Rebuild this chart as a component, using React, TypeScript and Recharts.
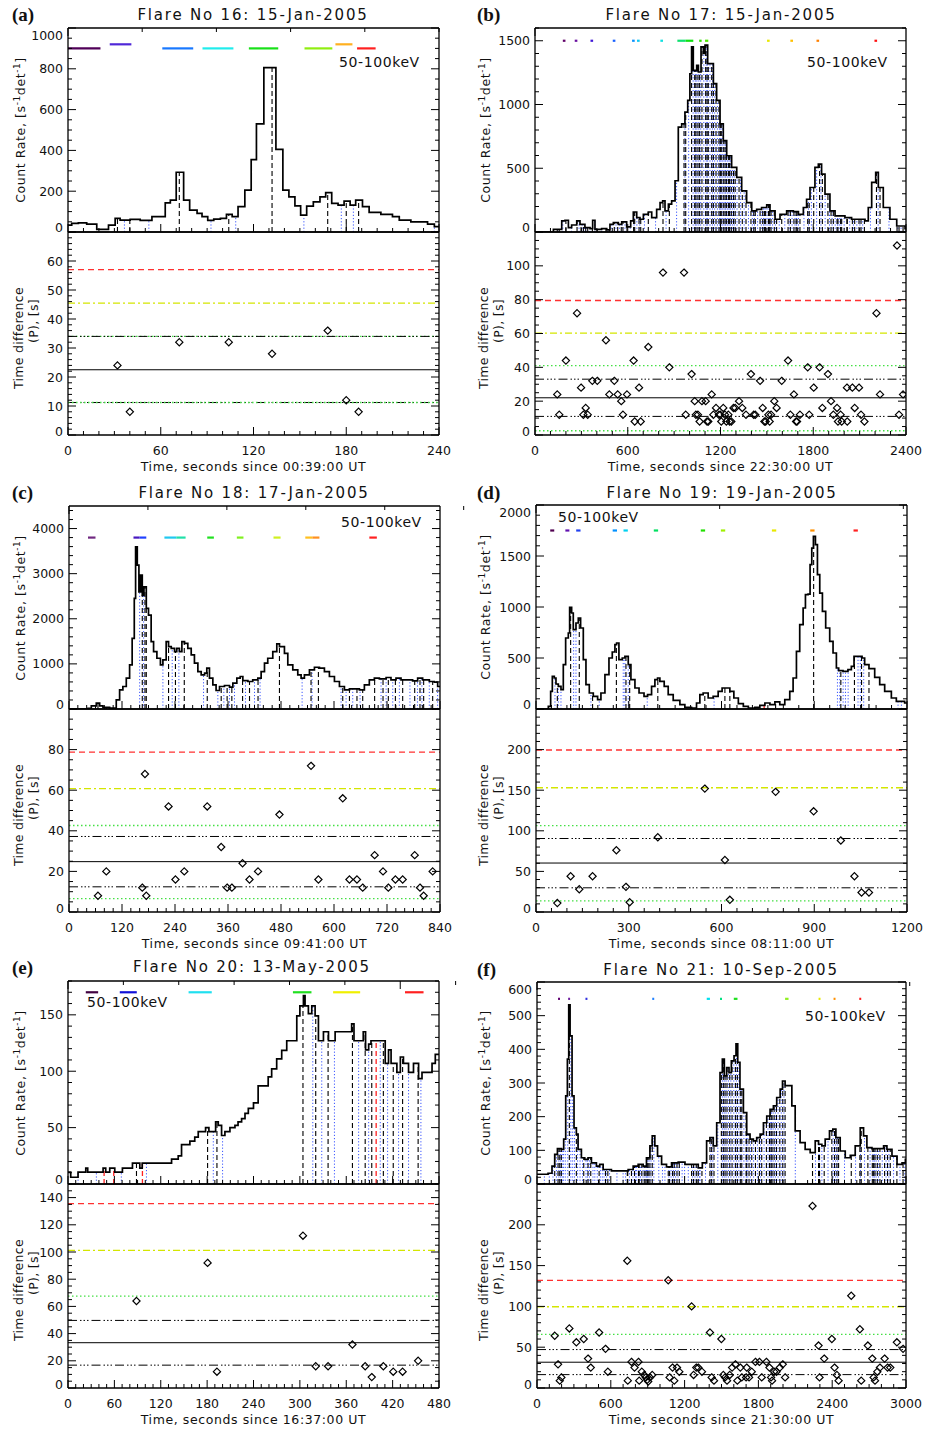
import React from 'react';
import { LineChart, Line, ScatterChart, Scatter, XAxis, YAxis, ReferenceLine } from 'recharts';

type Pair = [number, number];
type Mark = [number, number, number];

const FONT = '"DejaVu Sans", sans-serif';

// ---------- (a) Flare 16 ----------
const rateA: Pair[] = [[0,34],[2.4,42],[6.7,45],[12.1,39],[18.6,13],[26.2,34],[30.5,67],[33.7,58],[40.2,62],[46.7,57],[54.3,75],[62.9,143],[66.2,156],[70,293],[74.8,156],[78.7,107],[83.5,91],[86.7,75],[90.4,57],[94.3,63],[98.6,67],[102.5,86],[106.2,75],[110,124],[114.4,205],[118.5,355],[121.9,530],[126.7,806],[134.5,405],[139,205],[142.9,172],[146.8,128],[150.5,83],[154.4,127],[158.7,148],[163,172],[166.7,193],[170.6,140],[174.7,132],[178.6,151],[182.5,132],[186.1,156],[190.5,124],[194.8,96],[202.4,86],[209.9,75],[214.3,58],[221.8,50],[232.6,39],[237,26],[240,26]];
const peaksA: Pair[] = [[32,24],[40,8],[72,32],[104,32],[132,28],[168,36],[180,12],[188,8]];
const valleysA = [36.5, 52.3, 92.5, 108.5, 152.6, 176.8, 184.6, 237];
const marksA: Mark[] = [[0,21,900],[27,41,920],[61,81,900],[87,107,900],[117,136,900],[153,171,900],[173,184,920],[187,199,900]];
const markColorsA = ['#500058','#5028d8','#1878ff','#20ecec','#18e018','#90ee10','#ffb020','#ff2020'];
const levelsA = [57, 45.5, 34, 34, 22.5, 11.2, 11.2];

// ---------- (b) Flare 17 ----------
const rateB: Pair[] = [[0,0],[119,20],[173,87],[194,92],[216,34],[237,55],[270,87],[291,60],[323,34],[356,26],[373,92],[388,21],[431,26],[464,16],[485,60],[507,73],[539,60],[561,80],[593,40],[619,87],[636,157],[658,113],[679,100],[701,139],[733,157],[755,113],[787,178],[809,231],[826,244],[841,165],[863,218],[884,244],[906,402],[927,822],[949,848],[970,940],[988,1032],[1002,1241],[1013,1452],[1024,1268],[1046,1307],[1057,1255],[1074,1452],[1089,1400],[1100,1465],[1117,1320],[1132,1320],[1154,1163],[1175,1032],[1197,848],[1218,717],[1240,598],[1272,507],[1305,428],[1337,323],[1369,231],[1402,165],[1434,178],[1466,192],[1499,213],[1520,165],[1553,100],[1585,139],[1628,165],[1671,160],[1704,139],[1736,192],[1757,257],[1779,349],[1811,507],[1833,533],[1854,454],[1876,297],[1908,165],[1941,126],[2005,113],[2048,100],[2092,100],[2135,87],[2156,192],[2178,389],[2204,467],[2221,349],[2253,192],[2296,100],[2340,47],[2394,26],[2400,26]];
const peaksB: Pair[] = [[144,24],[157,12],[200,44],[272,72],[298,28],[313,12],[328,16],[341,12],[371,32],[403,32],[459,56],[481,24],[513,32],[535,24],[558,20],[569,12],[595,24],[638,44],[645,8],[673,28],[684,8],[733,52],[828,96],[869,40],[964,96],[975,12],[1013,36],[1033,20],[1041,12],[1054,12],[1065,8],[1080,20],[1104,20],[1113,8],[1121,8],[1143,24],[1154,12],[1171,16],[1190,12],[1199,12],[1205,8],[1218,16],[1229,12],[1238,8],[1251,12],[1259,8],[1270,8],[1284,16],[1295,16],[1320,20],[1341,16],[1365,12],[1397,36],[1415,12],[1425,12],[1456,32],[1473,16],[1484,8],[1492,8],[1510,12],[1518,8],[1527,12],[1548,20],[1563,16],[1596,32],[1637,44],[1652,12],[1675,24],[1689,8],[1695,8],[1714,12],[1764,40],[1774,12],[1803,28],[1841,40],[1859,16],[1895,36],[1915,20],[1930,12],[1954,16],[1960,8],[1977,12],[1984,8],[2018,28],[2020,8],[2053,28],[2068,16],[2096,28],[2109,12],[2131,8],[2209,72],[2232,24],[2342,112],[2355,12],[2381,24]];
const valleysB = [150,180,236,285,305,320,335,356,387,430,470,497,524,546,563,582,616,641,659,678,708,780,848,916,970,994,1023,1037,1047,1060,1072,1092,1108,1117,1132,1148,1162,1180,1194,1202,1211,1223,1233,1244,1255,1264,1277,1289,1307,1330,1353,1381,1406,1420,1440,1464,1478,1488,1501,1514,1522,1537,1555,1580,1616,1644,1663,1682,1692,1704,1740,1769,1788,1822,1850,1877,1905,1922,1942,1957,1968,1980,2000,2036,2060,2082,2102,2120,2170,2220,2290,2348,2368,2394];
const marksB: Mark[] = [[180,197,1500],[257,274,1500],[359,376,1500],[503,520,1500],[628,645,1500],[660,677,1500],[811,828,1500],[921,975,1500],[975,1024,1500],[1062,1078,1500],[1100,1121,1500],[1501,1518,1500],[1652,1669,1500],[1821,1838,1500],[2196,2213,1500]];
const markColorsB = ['#600068','#6a10a0','#4018d8','#1860ff','#0890ff','#10c8f0','#10e0e0','#10e070','#10e010','#30e000','#50e800','#e8e800','#ffc000','#ff8000','#ff1010'];
const levelsB = [79.5, 60.2, 41, 33, 22, 11, 2.5];

// ---------- (c) Flare 18 ----------
const rateC: Pair[] = [[0,0],[43,15],[50.5,71],[61.8,130],[69.4,71],[76.9,35],[92,20],[103.3,20],[107,204],[114.6,425],[122,499],[129.7,683],[137.2,978],[143,1567],[147.8,2451],[150.8,3593],[154.6,3188],[158.3,2598],[162,2967],[165.9,2524],[169.7,2709],[175,2230],[180,2083],[186,1493],[191.5,1272],[199,1125],[207,978],[212.6,1088],[220,1493],[225.4,1383],[231.5,1346],[239,1272],[244,1346],[250,1272],[255.6,1493],[261.6,1456],[269,1346],[276.7,1199],[284,1015],[291.8,830],[299.3,757],[307,794],[312,904],[318,683],[325.7,536],[333,410],[340.8,499],[352,521],[363.4,484],[371,573],[380,683],[387.6,720],[393.6,631],[405,610],[416,646],[427.5,683],[435,830],[442.6,1015],[450,1125],[461.4,1272],[470.5,1442],[476.5,1383],[487.8,1235],[495.4,978],[506.7,867],[518,757],[525.5,683],[533,757],[544.4,867],[555.7,926],[567,904],[578.3,830],[589.6,720],[601,610],[612.3,499],[623.6,425],[635,447],[646.2,447],[657.5,425],[668.8,536],[680,646],[691.4,683],[702.7,668],[718,698],[729,646],[740.4,683],[751.7,646],[763,646],[778,624],[789.4,683],[800.7,646],[815.8,610],[827,595],[834.7,499],[840,499]];
const peaksC: Pair[] = [[65.6,8],[84.5,20],[165.9,12],[172,68],[175,8],[225.4,52],[241,16],[261,20],[313,52],[344.6,32],[358,12],[368.7,12],[393,24],[408.7,16],[428,20],[476.5,48],[548,72],[564.7,16],[619.8,56],[635,16],[652,16],[665,12],[692,28],[711,20],[723,12],[739,16],[755.5,16],[782.7,28],[794.7,12],[803,8],[823.4,20]];
const valleysC = [160,169,212.6,233.7,248.8,304.6,337,350.6,363.4,374.7,399.6,420,432.6,527.8,550.4,616,627.4,642.4,659,706.5,718,733,748,772,789,799,815.8,834.6];
const marksC: Mark[] = [[43,60,3800],[146,160,3800],[160,175,3800],[216,243,3800],[243,264,3800],[313,328,3800],[380,395,3800],[463,479,3800],[535,551,3800],[551,567,3800],[680,697,3800]];
const markColorsC = ['#702880','#4818c0','#2040ff','#20c8f0','#20e0a8','#20e020','#80f020','#d0f020','#ffc020','#ff9020','#ff2020'];
const levelsC = [78.8, 60.8, 42.6, 37.2, 24.8, 12.4, 6.6];

// ---------- (d) Flare 19 ----------
const rateD: Pair[] = [[0,0],[34.5,0],[39.9,26],[47.4,173],[52.8,320],[59.2,304],[64.6,245],[72.2,222],[80.8,190],[88.3,435],[95.9,696],[104.5,745],[108.8,997],[115.3,941],[120.6,778],[129.3,843],[136.8,892],[144.3,794],[153,484],[161.6,239],[172.4,157],[185.3,124],[199.3,92],[210,157],[223,337],[236,500],[246.7,559],[255.3,631],[260.7,647],[268.2,484],[279,500],[287.6,516],[298.4,435],[307,288],[320,206],[333.3,157],[349.4,124],[360.9,141],[373.8,222],[384.6,288],[393.2,304],[400.7,271],[414.7,222],[427.6,141],[443.8,85],[465.4,42],[481.5,16],[503,10],[519.2,59],[530,141],[540.7,157],[556.9,108],[573,124],[589.2,173],[602,206],[616.2,206],[627,173],[640,108],[654.5,52],[670.6,26],[686.8,10],[708,16],[724,36],[740.4,59],[756.6,42],[772.7,69],[788.5,42],[804.7,92],[820.8,173],[831.6,304],[842.4,565],[853,827],[864,990],[871.5,1121],[880,1127],[886.5,1415],[892,1578],[897.3,1693],[903.8,1611],[910.3,1317],[917.8,1137],[926.4,958],[937,794],[950,663],[960.8,549],[971.6,402],[979,376],[993,369],[1009,386],[1020,418],[1028.7,516],[1041.6,516],[1054.6,500],[1063,435],[1077,395],[1095.5,310],[1111.7,239],[1127.8,173],[1149.4,108],[1165.5,75],[1192.5,59],[1200,59]];
const peaksD: Pair[] = [[69,11],[112,44],[140,28],[183,44],[260,76],[291,31],[303,12],[394,92],[546,152],[611,64],[627,15],[775,148],[898,124],[986,88],[1030,44],[1053,24],[1077,24]];
const valleysD = [61.4,72.2,80.8,121.7,129.3,177.7,204.6,282.2,287.6,298.4,359.8,576,975,982.6,993.4,1001,1009.6,1041.6,1049,1060,1171,1182];
const redsD = [738];
const marksD: Mark[] = [[46,59,1750],[95,108,1750],[130,144,1750],[248,262,1750],[283,297,1750],[381,395,1750],[533,547,1750],[598,612,1750],[763,777,1750],[887,901,1750],[1027,1041,1750]];
const markColorsD = ['#500050','#6010b0','#2040f0','#0090ff','#00d0f0','#00e060','#20e000','#a0f000','#e8e800','#ff9000','#ff2020'];
const levelsD = [199.5, 153, 106.4, 90.5, 60.3, 29.8, 13.7];

// ---------- (e) Flare 20 ----------
const rateE: Pair[] = [[0,10.6],[3.5,6],[13,10.6],[23,14],[25.5,10.6],[45.4,14],[48.8,10.6],[54,14],[60.5,10.6],[70.4,14],[83.4,18.5],[92.9,14],[96,18.5],[134,22],[142.6,25],[146.9,35],[157.7,38],[164,41.5],[168.5,46.5],[178,50],[182.3,46.5],[191,55],[194.4,52],[198.7,43],[203,46.5],[209.5,50],[216,52],[220,55],[224.6,58],[229,62.6],[233.3,67],[240,72],[246,87],[259,95],[263.5,102],[270,111],[276.5,118.5],[283,127],[296,149],[300,158],[304.6,167],[306.7,158],[311,151],[315.4,158],[319.7,149],[324,127],[330.5,135],[337,127],[345.6,135],[367,142],[370,127],[382,135],[385,119],[389,124],[392,127],[410.4,107],[414.7,119],[418,107],[425.5,99],[430,112.6],[434,107],[440.6,99],[447,107],[453.6,93.5],[458,99],[471,107],[475.2,115],[480,115]];
const peaksE: Pair[] = [[88.6,64],[180.6,92],[192.7,12],[304,112],[320.5,16],[336.5,16],[368,32],[384.5,16],[393,8],[408,16],[420.8,12],[432.9,12],[453,20]];
const valleysE = [13,36.7,69,101.5,188,200,316.7,328.3,344.7,376,389,404,413.5,427.7,440.6,456.6];
const redsE = [46.7, 59.2, 96.3, 398.7];
const marksE: Mark[] = [[23,39,170],[67,89,170],[156,186,170],[291,315,170],[343,378,170],[436,460,170]];
const markColorsE = ['#400040','#1010d8','#20e0f0','#20e020','#f0f000','#ff2020'];
const levelsE = [135.5, 101.2, 67.6, 49.7, 33.3, 16.8, null];

// ---------- (f) Flare 21 ----------
const rateF: Pair[] = [[0,29],[35,29],[90,32],[122,53],[144,88],[166,105],[198,103],[217,133],[233.5,262],[247,371],[258,532],[269,440],[285,262],[301,167],[320,148],[334,103],[361,78],[388,73],[415,78],[442.5,63],[483,53],[510,58],[537.6,43],[578,43],[605,39],[687,39],[741,43],[782,53],[822.6,58],[863,53],[890,78],[918,113],[937,143],[958,113],[980,83],[1013,58],[1053,51],[1094,63],[1148,65],[1203,58],[1257,58],[1311,48],[1344,63],[1379,128],[1406,138],[1433,113],[1461,182],[1488,331],[1507,371],[1523,321],[1542,346],[1561,331],[1580,366],[1602,381],[1618,416],[1632,361],[1650,282],[1678,212],[1705,148],[1732,133],[1759,128],[1786,138],[1814,148],[1841,182],[1868,202],[1895,222],[1922,232],[1949,257],[1977,282],[1996,306],[2017,292],[2044,292],[2072,232],[2099,158],[2139,123],[2180,103],[2221,93],[2262,128],[2289,118],[2316,113],[2343,133],[2378,158],[2405,163],[2430,138],[2465,98],[2506,78],[2547,85],[2587,113],[2628,167],[2655,143],[2682,108],[2723,105],[2777,105],[2818,113],[2845,103],[2886,83],[2927,58],[2968,63],[2995,73],[3000,73]];
const peaksF: Pair[] = [[144,64],[171,29],[185,9],[198,13],[263,73],[320,56],[380,60],[415,36],[437,25],[505,68],[557,48],[576,20],[734,156],[738,9],[768,32],[793,25],[825,32],[831,9],[852,20],[872,16],[885,13],[896,10],[904,8],[918,13],[937,16],[1067,132],[1078,13],[1102,25],[1116,9],[1138,25],[1157,20],[1257,100],[1273,16],[1295,25],[1311,25],[1341,20],[1406,68],[1420,13],[1439,9],[1499,60],[1515,16],[1529,13],[1545,9],[1567,16],[1586,25],[1613,29],[1629,9],[1653,25],[1665,13],[1700,13],[1705,25],[1724,13],[1746,20],[1776,32],[1808,32],[1827,13],[1865,32],[1890,25],[1903,13],[1911,9],[1928,20],[1947,20],[1974,25],[1998,29],[2017,13],[2240,223],[2289,52],[2297,13],[2335,36],[2397,60],[2419,25],[2438,16],[2452,9],[2555,113],[2625,72],[2636,9],[2690,52],[2726,36],[2737,13],[2748,9],[2767,20],[2788,25],[2826,36],[2850,25],[2872,25],[2926,56],[2976,48]];
const valleysF = [60,100,130,158,178,192,205,215,230,250,275,290,305,330,350,370,398,410,426,455,470,490,515,531,545,566,590,650,700,720,752,780,800,810,828,841,862,878,890,900,911,927,950,990,1020,1040,1072,1090,1109,1127,1147,1180,1200,1230,1265,1284,1303,1320,1326,1370,1413,1430,1470,1507,1522,1537,1556,1576,1600,1621,1641,1659,1682,1702,1714,1735,1761,1792,1818,1846,1878,1896,1907,1920,1938,1960,1986,2008,2100,2264,2293,2316,2366,2408,2428,2445,2500,2590,2630,2663,2708,2731,2742,2757,2777,2807,2838,2861,2899,2951,2990];
const marksF: Mark[] = [[171,187,550],[253,269,550],[394,410,550],[937,953,550],[1380,1406,550],[1488,1504,550],[1600,1630,550],[2017,2045,550],[2289,2305,550],[2411,2427,550],[2620,2636,550]];
const markColorsF = ['#600070','#7020a0','#3030e0','#2080ff','#00e0f0','#00e080','#20e020','#90f020','#e8e800','#ff9000','#ff2020'];
const levelsF = [132, 99.6, 65.6, 47.1, 31.6, 16.4, null];

// red, yellow, green hi, sigma hi, mean, sigma lo, green lo
const LEVEL_STYLES = [
  { stroke: '#ff3030', dash: '6 4', w: 1.3 },
  { stroke: '#d4e600', dash: '7 3 2 3', w: 1.3 },
  { stroke: '#44e044', dash: '1.5 2.5', w: 1.3 },
  { stroke: '#000', dash: '9 3 1.5 2 1.5 2 1.5 3', w: 1 },
  { stroke: '#000', dash: undefined, w: 1 },
  { stroke: '#000', dash: '9 3 1.5 2 1.5 2 1.5 3', w: 1 },
  { stroke: '#44e044', dash: '1.5 2.5', w: 1.3 },
];

interface PanelSpec {
  letter: string; title: string; since: string;
  colLeft: number; plotLeft: number; plotRight: number;
  top: number; mid: number; bottom: number;
  titleX: number; titleY: number; letterY: number;
  keVX: number; keVY: number;
  xMax: number; xMajor: number[]; xMinor: number;
  rMax: number; rMajor: number[]; rMinor: number;
  dMax: number; dMajor: number[]; dMinor: number;
  rate: Pair[]; peaks: Pair[]; valleys: number[]; reds: number[];
  marks: Mark[]; markColors: string[]; levels: (number | null)[];
}

const PANELS: PanelSpec[] = [
  { letter: '(a)', title: 'Flare No 16: 15-Jan-2005', since: '00:39:00', colLeft: 0, plotLeft: 68, plotRight: 439, top: 28, mid: 232, bottom: 435, titleX: 253, titleY: 15, letterY: 15, keVX: 339, keVY: 62,
    xMax: 240, xMajor: [0, 60, 120, 180, 240], xMinor: 10, rMax: 1000, rMajor: [0, 200, 400, 600, 800, 1000], rMinor: 50, dMax: 70, dMajor: [0, 10, 20, 30, 40, 50, 60, 70], dMinor: 2,
    rate: rateA, peaks: peaksA, valleys: valleysA, reds: [], marks: marksA, markColors: markColorsA, levels: levelsA },
  { letter: '(b)', title: 'Flare No 17: 15-Jan-2005', since: '22:30:00', colLeft: 465, plotLeft: 535, plotRight: 906, top: 28, mid: 232, bottom: 435, titleX: 721, titleY: 15, letterY: 15, keVX: 807, keVY: 62,
    xMax: 2400, xMajor: [0, 600, 1200, 1800, 2400], xMinor: 100, rMax: 1600, rMajor: [0, 500, 1000, 1500], rMinor: 100, dMax: 120, dMajor: [0, 20, 40, 60, 80, 100, 120], dMinor: 5,
    rate: rateB, peaks: peaksB, valleys: valleysB, reds: [], marks: marksB, markColors: markColorsB, levels: levelsB },
  { letter: '(c)', title: 'Flare No 18: 17-Jan-2005', since: '09:41:00', colLeft: 0, plotLeft: 69, plotRight: 440, top: 506, mid: 709, bottom: 912, titleX: 254, titleY: 493, letterY: 493, keVX: 341, keVY: 522,
    xMax: 840, xMajor: [0, 120, 240, 360, 480, 600, 720, 840], xMinor: 20, rMax: 4500, rMajor: [0, 1000, 2000, 3000, 4000], rMinor: 200, dMax: 100, dMajor: [0, 20, 40, 60, 80, 100], dMinor: 5,
    rate: rateC, peaks: peaksC, valleys: valleysC, reds: [], marks: marksC, markColors: markColorsC, levels: levelsC },
  { letter: '(d)', title: 'Flare No 19: 19-Jan-2005', since: '08:11:00', colLeft: 465, plotLeft: 536, plotRight: 907, top: 505, mid: 709, bottom: 912, titleX: 722, titleY: 493, letterY: 493, keVX: 558, keVY: 517,
    xMax: 1200, xMajor: [0, 300, 600, 900, 1200], xMinor: 50, rMax: 2000, rMajor: [0, 500, 1000, 1500, 2000], rMinor: 100, dMax: 250, dMajor: [0, 50, 100, 150, 200, 250], dMinor: 10,
    rate: rateD, peaks: peaksD, valleys: valleysD, reds: redsD, marks: marksD, markColors: markColorsD, levels: levelsD },
  { letter: '(e)', title: 'Flare No 20: 13-May-2005', since: '16:37:00', colLeft: 0, plotLeft: 68, plotRight: 439, top: 981, mid: 1184, bottom: 1388, titleX: 252, titleY: 967, letterY: 968, keVX: 87, keVY: 1002,
    xMax: 480, xMajor: [0, 60, 120, 180, 240, 300, 360, 420, 480], xMinor: 10, rMax: 180, rMajor: [0, 50, 100, 150], rMinor: 10, dMax: 150, dMajor: [0, 20, 40, 60, 80, 100, 120, 140], dMinor: 5,
    rate: rateE, peaks: peaksE, valleys: valleysE, reds: redsE, marks: marksE, markColors: markColorsE, levels: levelsE },
  { letter: '(f)', title: 'Flare No 21: 10-Sep-2005', since: '21:30:00', colLeft: 465, plotLeft: 537, plotRight: 906, top: 982, mid: 1184, bottom: 1388, titleX: 721, titleY: 970, letterY: 970, keVX: 805, keVY: 1016,
    xMax: 3000, xMajor: [0, 600, 1200, 1800, 2400, 3000], xMinor: 100, rMax: 600, rMajor: [0, 100, 200, 300, 400, 500, 600], rMinor: 20, dMax: 250, dMajor: [0, 50, 100, 150, 200, 250], dMinor: 10,
    rate: rateF, peaks: peaksF, valleys: valleysF, reds: [], marks: marksF, markColors: markColorsF, levels: levelsF },
];

function tickList(max: number, step: number) {
  const out: number[] = [];
  for (let v = 0; v <= max + 1e-9; v += step) out.push(Math.round(v * 1000) / 1000);
  return out;
}

const isMajor = (v: number, majors: number[]) => majors.some(m => Math.abs(m - v) < 1e-6);

// value of the step curve at time t
function rateAt(rate: Pair[], t: number) {
  let v = rate[0][1];
  for (const [ti, ri] of rate) {
    if (ti <= t) v = ri;
    else break;
  }
  return v;
}

function xTick(majors: number[], dir: 'up' | 'down', labels: boolean) {
  return (p: any) => {
    const v = p.payload.value;
    const major = isMajor(v, majors);
    const len = major ? 8 : 4;
    const y2 = dir === 'up' ? p.y - len : p.y + len;
    return (
      <g>
        <line x1={p.x} y1={p.y} x2={p.x} y2={y2} stroke="#000" strokeWidth={1} />
        {labels && major && (
          <text x={p.x} y={p.y + 20} textAnchor="middle" fontSize={12.5} fontFamily={FONT} fill="#111">{v}</text>
        )}
      </g>
    );
  };
}

function yTick(majors: number[], side: 'left' | 'right', minY: number, maxY: number, labels: boolean, skip?: number) {
  return (p: any) => {
    const v = p.payload.value;
    const major = isMajor(v, majors);
    const len = major ? 8 : 4;
    const dir = side === 'left' ? 1 : -1;
    const ly = Math.min(Math.max(p.y, minY), maxY);
    return (
      <g>
        <line x1={p.x} y1={p.y} x2={p.x + dir * len} y2={p.y} stroke="#000" strokeWidth={1} />
        {labels && major && v !== skip && (
          <text x={p.x - 5} y={ly + 4.5} textAnchor="end" fontSize={12.5} fontFamily={FONT} fill="#111">{v}</text>
        )}
      </g>
    );
  };
}

const renderDiamond = (p: any) => (
  <polygon
    points={`${p.cx},${p.cy - 3.6} ${p.cx + 3.6},${p.cy} ${p.cx},${p.cy + 3.6} ${p.cx - 3.6},${p.cy}`}
    fill="none" stroke="#000" strokeWidth={1.2}
  />
);

const axisLine = { stroke: '#000', strokeWidth: 1.3 };

function Panel({ s }: { s: PanelSpec }) {
  // the frame axes are 1px thick; margins are reduced by that amount
  const W = 465, YW = 40, PT = 14, PB = 6, BT = 4, BB = 44, AX = 1;
  const topH = s.mid - s.top;
  const botH = s.bottom - s.mid;
  const ml = s.plotLeft - s.colLeft - YW;
  const mr = s.colLeft + W - s.plotRight - AX;
  const xTicks = tickList(s.xMax, s.xMinor);
  const rTicks = tickList(s.rMax, s.rMinor);
  const dTicks = tickList(s.dMax, s.dMinor);
  const rateData = s.rate.map(([t, r]) => ({ t, r }));
  const peakData = s.peaks.map(([t, v]) => ({ t, v }));
  const xDom: [number, number] = [0, s.xMax];
  const text = { position: 'absolute' as const, fontFamily: FONT, color: '#111', whiteSpace: 'nowrap' as const };
  const midTop = (s.top + s.mid) / 2;
  const midBot = (s.mid + s.bottom) / 2;
  const common = { type: 'number' as const, interval: 0, tickSize: 0, tickMargin: 0, allowDataOverflow: true, axisLine };

  return (
    <>
      <div style={{ ...text, left: s.colLeft + 12, top: s.letterY, transform: 'translateY(-50%)', fontFamily: '"Liberation Serif", serif', fontWeight: 'bold', fontSize: 19 }}>{s.letter}</div>
      <div style={{ ...text, left: s.titleX, top: s.titleY, transform: 'translate(-50%,-50%)', fontSize: 15, letterSpacing: 1.8 }}>{s.title}</div>
      <div style={{ ...text, left: s.keVX, top: s.keVY, transform: 'translateY(-50%)', fontSize: 14, letterSpacing: 0.6, zIndex: 2 }}>50-100keV</div>
      <div style={{ ...text, left: s.colLeft + 20, top: midTop, transform: 'translate(-50%,-50%) rotate(-90deg)', fontSize: 12.5, letterSpacing: 0.6 }}>
        Count Rate, [s<span style={{ fontSize: 9, position: 'relative', top: -5 }}>-1</span>det<span style={{ fontSize: 9, position: 'relative', top: -5 }}>-1</span>]
      </div>
      <div style={{ ...text, left: s.colLeft + 18, top: midBot + 4, transform: 'translate(-50%,-50%) rotate(-90deg)', fontSize: 12.5, letterSpacing: 0.3 }}>Time difference</div>
      <div style={{ ...text, left: s.colLeft + 33, top: midBot - 13, transform: 'translate(-50%,-50%) rotate(-90deg)', fontSize: 12.5, letterSpacing: 0.3 }}>(P), [s]</div>
      <div style={{ ...text, left: (s.plotLeft + s.plotRight) / 2, top: s.bottom + 31, transform: 'translate(-50%,-50%)', fontSize: 12.5, letterSpacing: 0.6 }}>
        Time, seconds since {s.since} UT
      </div>

      <div style={{ position: 'absolute', left: s.colLeft, top: s.top - PT }}>
        <LineChart width={W} height={topH + PT + PB} data={rateData} margin={{ top: PT - AX, bottom: PB - AX, left: ml, right: mr }}>
          <XAxis dataKey="t" {...common} domain={xDom} ticks={xTicks} height={AX} tick={xTick(s.xMajor, 'up', false)} />
          <XAxis xAxisId="top" orientation="top" {...common} domain={xDom} ticks={xTicks} height={AX} tick={xTick(s.xMajor, 'down', false)} />
          <YAxis {...common} domain={[0, s.rMax]} ticks={rTicks} width={YW} tick={yTick(s.rMajor, 'left', PT + 7, PT + topH - 5, true)} />
          <YAxis yAxisId="right" orientation="right" {...common} domain={[0, s.rMax]} ticks={rTicks} width={AX} tick={yTick(s.rMajor, 'right', 0, 0, false)} />
          {s.valleys.map((t, i) => (
            <ReferenceLine key={'v' + i} segment={[{ x: t, y: 0 }, { x: t, y: rateAt(s.rate, t) }]} stroke="#3a55ff" strokeWidth={1} strokeDasharray="1.2 2" />
          ))}
          {s.peaks.map(([t], i) => (
            <ReferenceLine key={'p' + i} segment={[{ x: t, y: 0 }, { x: t, y: rateAt(s.rate, t) }]} stroke="#000" strokeWidth={1.1} strokeDasharray="5 3" />
          ))}
          {s.reds.map((t, i) => (
            <ReferenceLine key={'r' + i} segment={[{ x: t, y: 0 }, { x: t, y: rateAt(s.rate, t) }]} stroke="#ff2020" strokeWidth={1.3} strokeDasharray="5 3" />
          ))}
          {s.marks.map(([a, b, lv], i) => (
            <ReferenceLine key={'m' + i} segment={[{ x: a, y: lv }, { x: b, y: lv }]} stroke={s.markColors[i]} strokeWidth={2.2} />
          ))}
          <Line type="stepAfter" dataKey="r" stroke="#000" strokeWidth={1.7} dot={false} isAnimationActive={false} />
        </LineChart>
      </div>

      <div style={{ position: 'absolute', left: s.colLeft, top: s.mid - BT }}>
        <ScatterChart width={W} height={botH + BT + BB} margin={{ top: BT - AX, bottom: BB - AX, left: ml, right: mr }}>
          <XAxis dataKey="t" {...common} domain={xDom} ticks={xTicks} height={AX} tick={xTick(s.xMajor, 'up', true)} />
          <XAxis xAxisId="top" orientation="top" {...common} domain={xDom} ticks={xTicks} height={AX} tick={xTick(s.xMajor, 'down', false)} />
          <YAxis dataKey="v" {...common} domain={[0, s.dMax]} ticks={dTicks} width={YW} tick={yTick(s.dMajor, 'left', BT + 6, BT + botH - 4, true, s.dMax)} />
          <YAxis yAxisId="right" orientation="right" {...common} domain={[0, s.dMax]} ticks={dTicks} width={AX} tick={yTick(s.dMajor, 'right', 0, 0, false)} />
          {s.levels.map((lv, i) => lv === null ? null : (
            <ReferenceLine key={'l' + i} y={lv} stroke={LEVEL_STYLES[i].stroke} strokeWidth={LEVEL_STYLES[i].w} strokeDasharray={LEVEL_STYLES[i].dash} />
          ))}
          <Scatter data={peakData} shape={renderDiamond} isAnimationActive={false} />
        </ScatterChart>
      </div>
    </>
  );
}

export default function App() {
  return (
    <div style={{ position: 'absolute', left: 0, top: 0, width: 930, height: 1429, background: '#fff', overflow: 'hidden' }}>
      {PANELS.map(s => <Panel key={s.letter} s={s} />)}
    </div>
  );
}
